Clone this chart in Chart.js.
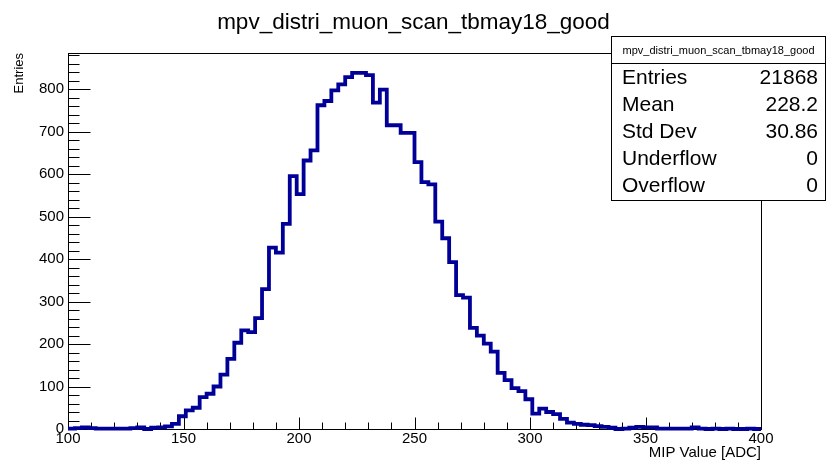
<!DOCTYPE html>
<html>
<head>
<meta charset="utf-8">
<script src="https://cdn.jsdelivr.net/npm/chart.js@4.4.0/dist/chart.umd.min.js"></script>
<style>
  html, body { margin: 0; padding: 0; background: #fff; }
  #wrap { width: 827px; height: 462px; }
</style>
</head>
<body>
<div id="wrap"><canvas id="histo" width="827" height="462"></canvas></div>
<script>
const histTitle = 'mpv_distri_muon_scan_tbmay18_good';
const xAxisTitle = 'MIP Value [ADC]';
const yAxisTitle = 'Entries';

// 100 bins of width 3 from 100 to 400
const binLow = 100;
const binWidth = 3;
const binCounts = [
    1, 2, 4, 2, 1, 1, 1, 1, 1, 2,
    4, 0, 3, 4, 6, 12, 30, 44, 50, 75,
    83, 100, 128, 165, 203, 232, 228, 261, 329, 427,
    415, 483, 595, 553, 632, 656, 762, 772, 797, 811,
    828, 838, 838, 833, 768, 799, 715, 715, 697, 697,
    628, 581, 576, 488, 449, 393, 315, 309, 238, 220,
    201, 182, 132, 115, 96, 89, 70, 36, 48, 40,
    35, 24, 15, 12, 10, 9, 7, 5, 3, 0,
    1, 3, 5, 4, 4, 1, 1, 1, 1, 1,
    4, 1, 0, 1, 0, 1, 0, 0, 1, 0
];

const xTickValues = [100, 150, 200, 250, 300, 350, 400];
const yTickValues = [0, 100, 200, 300, 400, 500, 600, 700, 800];
const xMinorStep = 10;
const yMinorStep = 20;
const yTop = 885;

const statLabels = ['Entries', 'Mean', 'Std Dev', 'Underflow', 'Overflow'];
const statValues = ['21868', '228.2', '30.86', '0', '0'];

const FONT = "'Liberation Sans', Arial, Helvetica, sans-serif";
const LINE_COLOR = '#000099';

// points sit on the left edge of each bin, one extra point closes the last bin
const histPoints = binCounts.map((c, i) => ({ x: binLow + i * binWidth, y: c }));
histPoints.push({ x: binLow + binCounts.length * binWidth, y: binCounts[binCounts.length - 1] });

// --- frame, inside ticks and stats box like a ROOT canvas ---
const rootFrame = {
    id: 'rootFrame',
    beforeDatasetsDraw(chart) {
        const { ctx, chartArea: a, scales: { x, y } } = chart;
        const L = Math.round(a.left) + 0.5, R = Math.round(a.right) + 0.5;
        const T = Math.round(a.top) + 0.5, B = Math.round(a.bottom) + 0.5;
        ctx.save();
        ctx.strokeStyle = '#000';
        ctx.lineWidth = 1;
        ctx.strokeRect(L, T, R - L, B - T);

        ctx.beginPath();
        for (let v = 0; v <= yTop; v += yMinorStep) {
            const py = Math.round(y.getPixelForValue(v)) + 0.5;
            const len = yTickValues.includes(v) ? 22 : 11;
            ctx.moveTo(L, py);
            ctx.lineTo(L + len, py);
        }
        for (let v = x.min; v <= x.max; v += xMinorStep) {
            const px = Math.round(x.getPixelForValue(v)) + 0.5;
            const len = xTickValues.includes(v) ? 12 : 7;
            ctx.moveTo(px, B);
            ctx.lineTo(px, B - len);
        }
        ctx.stroke();
        ctx.restore();
    },
    afterDraw(chart) {
        const { ctx } = chart;
        const bx = 611.5, by = 36.5, bw = 214, bh = 164, head = 27;
        ctx.save();
        ctx.fillStyle = '#fff';
        ctx.fillRect(bx, by, bw, bh);
        ctx.strokeStyle = '#000';
        ctx.lineWidth = 1;
        ctx.strokeRect(bx, by, bw, bh);
        ctx.beginPath();
        ctx.moveTo(bx, by + head);
        ctx.lineTo(bx + bw, by + head);
        ctx.stroke();

        ctx.fillStyle = '#000';
        ctx.textBaseline = 'middle';
        ctx.font = '11px ' + FONT;
        ctx.textAlign = 'center';
        ctx.fillText(histTitle, bx + bw / 2, by + 14);

        ctx.font = '21px ' + FONT;
        statLabels.forEach((lab, i) => {
            const ty = 78.5 + i * 27;
            ctx.textAlign = 'left';
            ctx.fillText(lab, 622, ty);
            ctx.textAlign = 'right';
            ctx.fillText(statValues[i], 818, ty);
        });
        ctx.restore();
    }
};

new Chart(document.getElementById('histo'), {
    type: 'line',
    data: {
        datasets: [{
            data: histPoints,
            borderColor: LINE_COLOR,
            borderWidth: 3.8,
            stepped: true,
            pointRadius: 0,
            fill: false,
            clip: false
        }]
    },
    options: {
        responsive: false,
        animation: false,
        layout: { padding: 0 },
        plugins: {
            legend: { display: false },
            tooltip: { enabled: false },
            title: {
                display: true,
                text: histTitle,
                color: '#000',
                font: { family: FONT, size: 22.5, weight: 'normal' },
                padding: { top: 9, bottom: 17 }
            }
        },
        scales: {
            x: {
                type: 'linear',
                min: 100,
                max: 400,
                grid: { display: false, drawTicks: false },
                border: { display: false },
                afterBuildTicks: s => { s.ticks = xTickValues.map(v => ({ value: v })); },
                afterFit: s => { s.height = 33; },
                ticks: {
                    color: '#000',
                    font: { family: FONT, size: 15 },
                    padding: 1,
                    maxRotation: 0,
                    autoSkip: false
                },
                title: {
                    display: true,
                    text: xAxisTitle,
                    align: 'end',
                    color: '#000',
                    font: { family: FONT, size: 15 },
                    padding: { top: 0, bottom: 0 }
                }
            },
            y: {
                type: 'linear',
                min: 0,
                max: yTop,
                grid: { display: false, drawTicks: false },
                border: { display: false },
                afterBuildTicks: s => { s.ticks = yTickValues.map(v => ({ value: v })); },
                afterFit: s => { s.width = 68; },
                ticks: {
                    color: '#000',
                    font: { family: FONT, size: 15 },
                    padding: 4
                },
                title: {
                    display: true,
                    text: yAxisTitle,
                    align: 'end',
                    color: '#000',
                    font: { family: FONT, size: 13 },
                    padding: { top: 12, bottom: 0 }
                }
            },
            // empty right margin so the title centres on the whole canvas
            yRight: {
                type: 'linear',
                position: 'right',
                grid: { display: false, drawTicks: false },
                border: { display: false },
                ticks: { display: false },
                afterFit: s => { s.width = 66; }
            }
        }
    },
    plugins: [rootFrame]
});
</script>
</body>
</html>
